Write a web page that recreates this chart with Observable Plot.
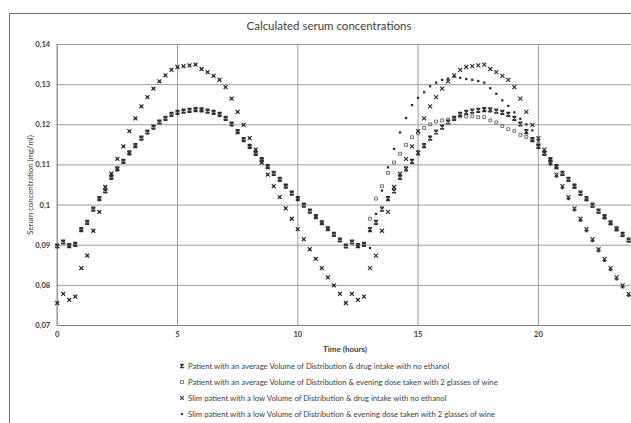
<!DOCTYPE html>
<html><head><meta charset="utf-8">
<script src="https://cdn.jsdelivr.net/npm/d3@7"></script>
<script src="https://cdn.jsdelivr.net/npm/@observablehq/plot@0.6"></script>
<style>
html,body{margin:0;padding:0;background:#fff;}
body{width:631px;height:423px;overflow:hidden;position:relative;font-family:Lato,"Open Sans",sans-serif;color:#404040;}
#frame{position:absolute;left:9px;top:13px;width:720px;height:520px;border:1.3px solid #707070;box-sizing:border-box;}
#title{position:absolute;top:19px;left:0;width:658px;text-align:center;font-size:11.5px;line-height:14px;color:#404040;}
#chart{position:absolute;left:0;top:0;}
#ylabel{position:absolute;left:30px;top:184.5px;transform:translate(-50%,-50%) rotate(-90deg);white-space:nowrap;font-size:7.8px;line-height:9px;}
#xlabel{position:absolute;left:345px;top:349px;transform:translate(-50%,-50%);white-space:nowrap;font-size:8px;font-weight:bold;line-height:10px;}
.leg{position:absolute;left:179px;white-space:nowrap;font-size:7.75px;line-height:10px;height:10px;display:flex;align-items:center;}
.leg svg{margin-right:3px;}
</style></head>
<body>
<div id="frame"></div>
<div id="title">Calculated serum concentrations</div>
<div id="chart"></div>
<div id="ylabel">Serum concentration (mg/ml)</div>
<div id="xlabel">Time (hours)</div>
<div id="legend"></div>
<script>
// ---- data ----
const times = [0,0.25,0.5,0.75,1,1.25,1.5,1.75,2,2.25,2.5,2.75,3,3.25,3.5,3.75,4,4.25,4.5,4.75,5,5.25,5.5,5.75,
6,6.25,6.5,6.75,7,7.25,7.5,7.75,8,8.25,8.5,8.75,9,9.25,9.5,9.75,10,10.25,10.5,10.75,11,11.25,11.5,11.75,
12,12.25,12.5,12.75,13,13.25,13.5,13.75,14,14.25,14.5,14.75,15,15.25,15.5,15.75,16,16.25,16.5,16.75,17,17.25,17.5,17.75,
18,18.25,18.5,18.75,19,19.25,19.5,19.75,20,20.25,20.5,20.75,21,21.25,21.5,21.75,22,22.25,22.5,22.75,23,23.25,23.5,23.75];

const avgNoEthanol = [0.0898,0.0908,0.0899,0.0902,0.0939,0.0957,0.0990,0.1016,0.1035,0.1069,0.1090,0.1109,
0.1130,0.1148,0.1167,0.1182,0.1194,0.1207,0.1216,0.1226,0.1231,0.1234,0.1236,0.1238,
0.1237,0.1234,0.1231,0.1226,0.1216,0.1202,0.1183,0.1163,0.1146,0.1129,0.1113,0.1096,
0.1079,0.1064,0.1047,0.1030,0.1016,0.1000,0.0985,0.0971,0.0956,0.0941,0.0927,0.0913,
0.0898,0.0908,0.0899,0.0902,0.0939,0.0957,0.0990,0.1016,0.1035,0.1069,0.1090,0.1109,
0.1130,0.1148,0.1167,0.1182,0.1194,0.1207,0.1216,0.1226,0.1231,0.1234,0.1236,0.1238,
0.1237,0.1234,0.1231,0.1226,0.1216,0.1202,0.1183,0.1163,0.1146,0.1129,0.1113,0.1096,
0.1079,0.1064,0.1047,0.1030,0.1016,0.1000,0.0985,0.0971,0.0956,0.0941,0.0927,0.0913];

const avgWine = [0.0898,0.0908,0.0899,0.0902,0.0939,0.0957,0.0990,0.1016,0.1035,0.1069,0.1090,0.1109,
0.1130,0.1148,0.1167,0.1182,0.1194,0.1207,0.1216,0.1226,0.1231,0.1234,0.1236,0.1238,
0.1237,0.1234,0.1231,0.1226,0.1216,0.1202,0.1183,0.1163,0.1146,0.1129,0.1113,0.1096,
0.1079,0.1064,0.1047,0.1030,0.1016,0.1000,0.0985,0.0971,0.0956,0.0941,0.0927,0.0913,
0.0898,0.0908,0.0899,0.0902,0.0966,0.1016,0.1047,0.1080,0.1106,0.1128,0.1150,0.1169,
0.1179,0.1192,0.1201,0.1208,0.1211,0.1213,0.1217,0.1221,0.1221,0.1221,0.1219,0.1219,
0.1211,0.1206,0.1197,0.1189,0.1185,0.1175,0.1170,0.1162,0.1152,0.1127,0.1111,0.1094,
0.1077,0.1062,0.1045,0.1028,0.1014,0.0998,0.0983,0.0969,0.0954,0.0939,0.0925,0.0911];

const slimNoEthanol = [0.0756,0.0779,0.0764,0.0772,0.0843,0.0874,0.0936,0.0983,0.1045,0.1078,0.1115,0.1146,
0.1184,0.1216,0.1246,0.1269,0.1290,0.1308,0.1323,0.1337,0.1344,0.1346,0.1348,0.1350,
0.1339,0.1331,0.1322,0.1312,0.1294,0.1265,0.1232,0.1200,0.1167,0.1138,0.1106,0.1076,
0.1047,0.1020,0.0992,0.0966,0.0940,0.0915,0.0890,0.0866,0.0843,0.0820,0.0800,0.0779,
0.0756,0.0779,0.0764,0.0772,0.0843,0.0874,0.0936,0.0983,0.1045,0.1078,0.1115,0.1146,
0.1184,0.1216,0.1246,0.1269,0.1290,0.1308,0.1323,0.1337,0.1344,0.1346,0.1348,0.1350,
0.1339,0.1331,0.1322,0.1312,0.1294,0.1265,0.1232,0.1200,0.1167,0.1138,0.1106,0.1076,
0.1047,0.1020,0.0992,0.0966,0.0940,0.0915,0.0890,0.0866,0.0843,0.0820,0.0800,0.0779];

const slimWine = [0.0756,0.0779,0.0764,0.0772,0.0843,0.0874,0.0936,0.0983,0.1045,0.1078,0.1115,0.1146,
0.1184,0.1216,0.1246,0.1269,0.1290,0.1308,0.1323,0.1337,0.1344,0.1346,0.1348,0.1350,
0.1339,0.1331,0.1322,0.1312,0.1294,0.1265,0.1232,0.1200,0.1167,0.1138,0.1106,0.1076,
0.1047,0.1020,0.0992,0.0966,0.0940,0.0915,0.0890,0.0866,0.0843,0.0820,0.0800,0.0779,
0.0756,0.0779,0.0764,0.0772,0.0893,0.0978,0.1036,0.1094,0.1140,0.1181,0.1217,0.1249,
0.1267,0.1281,0.1296,0.1305,0.1312,0.1315,0.1320,0.1317,0.1314,0.1312,0.1309,0.1305,
0.1291,0.1277,0.1261,0.1247,0.1231,0.1215,0.1201,0.1186,0.1161,0.1133,0.1101,0.1071,
0.1042,0.1015,0.0987,0.0961,0.0935,0.0910,0.0885,0.0861,0.0838,0.0815,0.0795,0.0774];

const seriesNames = [
  "Patient with an average Volume of Distribution & drug intake with no ethanol",
  "Patient with an average Volume of Distribution & evening dose taken with 2 glasses of wine",
  "Slim patient with a low Volume of Distribution & drug intake with no ethanol",
  "Slim patient with a low Volume of Distribution & evening dose taken with 2 glasses of wine"
];
const yTicks = [0.07,0.08,0.09,0.10,0.11,0.12,0.13,0.14];
const yTickLabels = ["0,07","0,08","0,09","0,1","0,11","0,12","0,13","0,14"];
const xTicks = [0,5,10,15,20];

// ---- symbols ----
const hourglass = {draw(ctx, size){const s=Math.sqrt(size/Math.PI);
  ctx.moveTo(-s,-s);ctx.lineTo(s,s);ctx.moveTo(s,-s);ctx.lineTo(-s,s);
  ctx.moveTo(-s,-s);ctx.lineTo(s,-s);ctx.moveTo(-s,s);ctx.lineTo(s,s);}};
const cross = {draw(ctx, size){const s=Math.sqrt(size/Math.PI);
  ctx.moveTo(-s,-s);ctx.lineTo(s,s);ctx.moveTo(s,-s);ctx.lineTo(-s,s);}};
const sq = {draw(ctx, size){const s=Math.sqrt(size/Math.PI);ctx.rect(-s,-s,2*s,2*s);}};

const toRows = arr => times.map((t,i)=>({t, v: arr[i]}));

const styles = [
  {symbol: hourglass, r: 2.0, stroke: "#2e2e2e", strokeWidth: 1.2, fill: "none"},
  {symbol: sq, r: 1.45, stroke: "#5a5a5a", strokeWidth: 0.85, fill: "none"},
  {symbol: cross, r: 2.0, stroke: "#2e2e2e", strokeWidth: 1.15, fill: "none"},
  {symbol: sq, r: 1.15, stroke: "none", fill: "#2e2e2e"}
];
const allSeries = [avgNoEthanol, avgWine, slimNoEthanol, slimWine];

const chart = Plot.plot({
  width: 631, height: 356,
  marginLeft: 56.7, marginRight: 0, marginTop: 44, marginBottom: 31,
  x: {domain: [0, 23.87]},
  y: {domain: [0.07, 0.14]},
  style: {fontFamily: "Lato, 'Open Sans', sans-serif", fontSize: "7.6px", fontWeight: "bold", color: "#404040", background: "transparent"},
  marks: [
    Plot.gridY(yTicks, {stroke: "#9c9c9c", strokeOpacity: 1, strokeWidth: 1}),
    Plot.gridX([5,10,15,20], {stroke: "#9c9c9c", strokeOpacity: 1, strokeWidth: 1}),
    Plot.ruleX([0], {stroke: "#808080", strokeWidth: 1.2}),
    Plot.ruleY([0.07], {stroke: "#808080", strokeWidth: 1.2}),
    Plot.axisY(yTicks, {tickSize: 0, tickPadding: 7, label: null, tickFormat: d => yTickLabels[yTicks.indexOf(d)]}),
    Plot.axisX(xTicks, {tickSize: 0, tickPadding: 6, label: null, tickFormat: d => String(d)}),
    Plot.dot(toRows(allSeries[1]), {x: "t", y: "v", ...styles[1]}),
    Plot.dot(toRows(allSeries[3]), {x: "t", y: "v", ...styles[3]}),
    Plot.dot(toRows(allSeries[0]), {x: "t", y: "v", ...styles[0]}),
    Plot.dot(toRows(allSeries[2]), {x: "t", y: "v", ...styles[2]})
  ]
});
document.getElementById("chart").appendChild(chart);

// ---- legend ----
const legendTops = [366, 382, 398, 414];
const markerSvg = [
  '<svg width="6" height="6" viewBox="-3 -3 6 6"><path d="M-1.8,-1.8L1.8,1.8M1.8,-1.8L-1.8,1.8M-1.8,-1.8H1.8M-1.8,1.8H1.8" stroke="#333" stroke-width="1.1" fill="none"/></svg>',
  '<svg width="6" height="6" viewBox="-3 -3 6 6"><rect x="-1.4" y="-1.4" width="2.8" height="2.8" stroke="#666" stroke-width="0.8" fill="none"/></svg>',
  '<svg width="6" height="6" viewBox="-3 -3 6 6"><path d="M-1.8,-1.8L1.8,1.8M1.8,-1.8L-1.8,1.8" stroke="#333" stroke-width="1.1" fill="none"/></svg>',
  '<svg width="6" height="6" viewBox="-3 -3 6 6"><rect x="-1.05" y="-1.05" width="2.1" height="2.1" fill="#333"/></svg>'
];
const leg = document.getElementById("legend");
seriesNames.forEach((name, i) => {
  const d = document.createElement("div");
  d.className = "leg";
  d.style.top = (legendTops[i] - 5) + "px";
  d.innerHTML = markerSvg[i] + "<span></span>";
  d.querySelector("span").textContent = name;
  leg.appendChild(d);
});
</script>
</body></html>
